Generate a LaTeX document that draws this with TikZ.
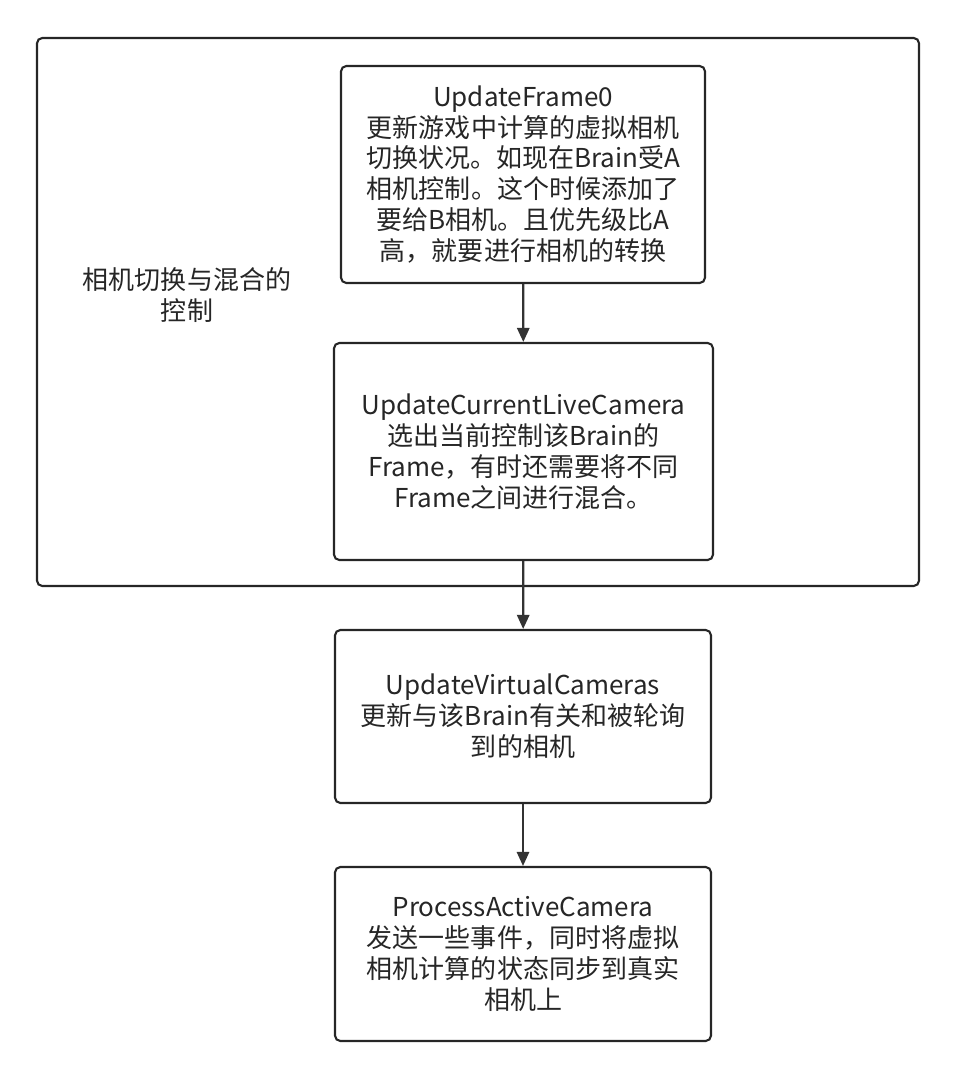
\documentclass[tikz,border=0pt]{standalone}
\usepackage{fontspec}
\setmainfont{Noto Sans CJK SC}
\usetikzlibrary{arrows.meta, positioning}
\tikzset{
  stepbox/.style={draw=black!85, line width=1.2pt, rounded corners=3pt, align=center,
    font=\fontsize{14.8}{17.6}\selectfont, text=black!85},
  flow/.style={draw=black!80, line width=1.2pt, -{Triangle[length=8pt,width=7pt]}}
}
\begin{document}
\begin{tikzpicture}[x=0.02cm, y=-0.02cm]
    \useasboundingbox (0,0) rectangle (957,1078);
    % 外框
    \draw[draw=black!85, line width=1.2pt, rounded corners=3pt] (37,38) rectangle (919,586);
    \node[align=center, font=\fontsize{14.8}{17.6}\selectfont, text=black!85] (group) at (187,295) {相机切换与混合的\\控制};

    \node[stepbox, minimum width=7.28cm, minimum height=4.34cm] (frame) at (523,174.5)
      {UpdateFrame0\\更新游戏中计算的虚拟相机\\切换状况。如现在Brain受A\\相机控制。这个时候添加了\\要给B相机。且优先级比A\\高，就要进行相机的转换};
    \node[stepbox, minimum width=7.58cm, minimum height=4.34cm] (live) at (523.5,451.5)
      {UpdateCurrentLiveCamera\\选出当前控制该Brain的\\Frame，有时还需要将不同\\Frame之间进行混合。};
    \node[stepbox, minimum width=7.52cm, minimum height=3.46cm] (virtual) at (523,716.5)
      {UpdateVirtualCameras\\更新与该Brain有关和被轮询\\到的相机};
    \node[stepbox, minimum width=7.52cm, minimum height=3.48cm] (process) at (523,954)
      {ProcessActiveCamera\\发送一些事件，同时将虚拟\\相机计算的状态同步到真实\\相机上};

    \draw[flow] (frame) -- (live);
    \draw[flow] (live) -- (virtual);
    \draw[flow] (virtual) -- (process);
\end{tikzpicture}
\end{document}
